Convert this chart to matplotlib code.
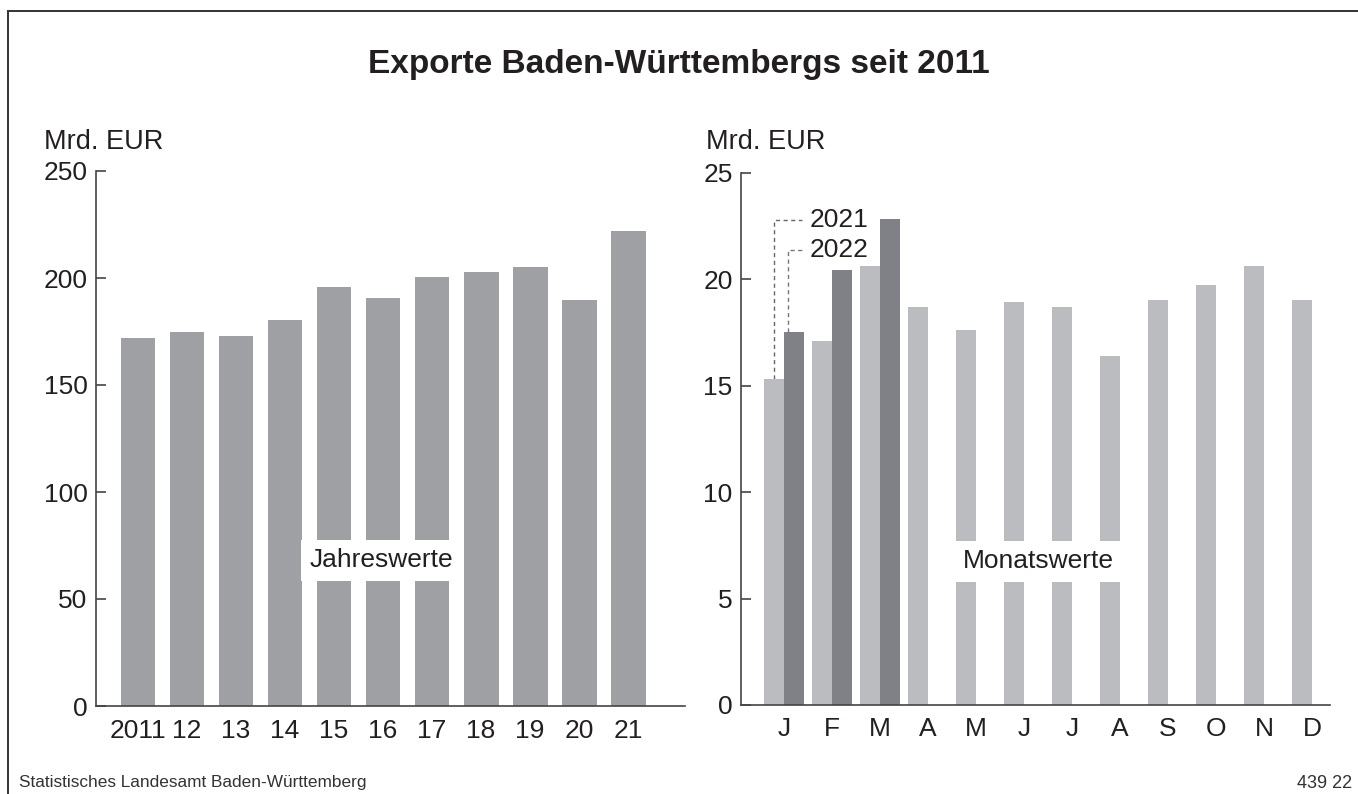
import matplotlib
matplotlib.use("Agg")
import matplotlib.pyplot as plt
from matplotlib.lines import Line2D
import numpy as np

plt.rcParams['font.family'] = ['Liberation Sans', 'DejaVu Sans']

# Jahreswerte (Mrd. EUR)
years = ['2011', '12', '13', '14', '15', '16', '17', '18', '19', '20', '21']
year_values = [172, 175, 173, 180.5, 196, 190.5, 200.5, 203, 205, 189.5, 222]

# Monatswerte (Mrd. EUR)
months = ['J', 'F', 'M', 'A', 'M', 'J', 'J', 'A', 'S', 'O', 'N', 'D']
values_2021 = [15.3, 17.1, 20.6, 18.7, 17.6, 18.9, 18.7, 16.4, 19.0, 19.7, 20.6, 19.0]
values_2022 = [17.5, 20.4, 22.8]

W, H = 1358, 794
fig = plt.figure(figsize=(W / 100, H / 100), dpi=100)
text_col = '#231f20'
axis_col = '#444444'
fs = 19


def px_rect(x0, y0, x1, y1):
    # pixel box (top-left origin) -> figure fraction rect
    return [x0 / W, 1 - y1 / H, (x1 - x0) / W, (y1 - y0) / H]


def style_axes(ax):
    for s in ['top', 'right']:
        ax.spines[s].set_visible(False)
    for s in ['left', 'bottom']:
        ax.spines[s].set_color(axis_col)
        ax.spines[s].set_linewidth(1.2)
    ax.tick_params(axis='y', direction='in', length=7, width=1.2, color=axis_col,
                   labelsize=fs, labelcolor=text_col, pad=6)
    ax.tick_params(axis='x', length=0, labelsize=fs, labelcolor=text_col, pad=9)


# left chart
ax1 = fig.add_axes(px_rect(96, 171, 685, 706))
x1 = np.arange(len(years))
ax1.bar(x1, year_values, width=0.71, color='#9fa0a4', zorder=2)
ax1.set_xlim(-0.857, 11.16)
ax1.set_ylim(0, 250)
ax1.set_yticks(np.arange(0, 251, 50))
ax1.set_xticks(x1)
ax1.set_xticklabels(years)
style_axes(ax1)
ax1.text(4.97, 68, 'Jahreswerte', ha='center', va='center', fontsize=fs, color=text_col,
         zorder=3, bbox=dict(facecolor='white', edgecolor='none', pad=6))

# right chart
ax2 = fig.add_axes(px_rect(741, 172.5, 1330, 705))
x2 = np.arange(len(months))
bw = 0.417
ax2.bar(x2 - bw / 2, values_2021, width=bw, color='#bbbcc0', zorder=2)
ax2.bar(x2[:len(values_2022)] + bw / 2, values_2022, width=bw, color='#808186', zorder=2)
ax2.set_xlim(-0.896, 11.375)
ax2.set_ylim(0, 25)
ax2.set_yticks(np.arange(0, 26, 5))
ax2.set_xticks(x2)
ax2.set_xticklabels(months)
style_axes(ax2)
ax2.text(5.3, 6.75, 'Monatswerte', ha='center', va='center', fontsize=fs, color=text_col,
         zorder=3, bbox=dict(facecolor='white', edgecolor='none', pad=6))

# legend with dashed leader lines
lx_2021 = x2[0] - bw / 2
lx_2022 = x2[0] + 0.09
ly_2021, ly_2022 = 22.75, 21.38
x_end, x_txt = 0.375, 0.54
ax2.plot([lx_2021, lx_2021, x_end], [values_2021[0], ly_2021, ly_2021],
         ls=(0, (3, 2.5)), color='#666666', lw=1, zorder=1)
ax2.plot([lx_2022, lx_2022, x_end], [values_2022[0], ly_2022, ly_2022],
         ls=(0, (3, 2.5)), color='#777777', lw=1, zorder=3)
ax2.text(x_txt, ly_2021, '2021', ha='left', va='center', fontsize=fs, color=text_col)
ax2.text(x_txt, ly_2022, '2022', ha='left', va='center', fontsize=fs, color=text_col)

# titles and units
fig.text(0.5, 1 - 65 / H, 'Exporte Baden-Württembergs seit 2011', ha='center', va='center',
         fontsize=24, fontweight='bold', color=text_col)
fig.text(44 / W, 1 - 142 / H, 'Mrd. EUR', ha='left', va='center', fontsize=19.5, color=text_col)
fig.text(706 / W, 1 - 142 / H, 'Mrd. EUR', ha='left', va='center', fontsize=19.5, color=text_col)

# footer
fig.text(19 / W, 1 - 783 / H, 'Statistisches Landesamt Baden-Württemberg', ha='left', va='center',
         fontsize=12.4, color='#333333')
fig.text(1352 / W, 1 - 783 / H, '439 22', ha='right', va='center', fontsize=13, color='#333333')

# frame (top and left)
fig.add_artist(Line2D([7.5 / W, 1], [1 - 10.5 / H, 1 - 10.5 / H], color='#333333', lw=1.4))
fig.add_artist(Line2D([7.5 / W, 7.5 / W], [0, 1 - 10.5 / H], color='#333333', lw=1.4))

fig.savefig('out.png', dpi=100)
